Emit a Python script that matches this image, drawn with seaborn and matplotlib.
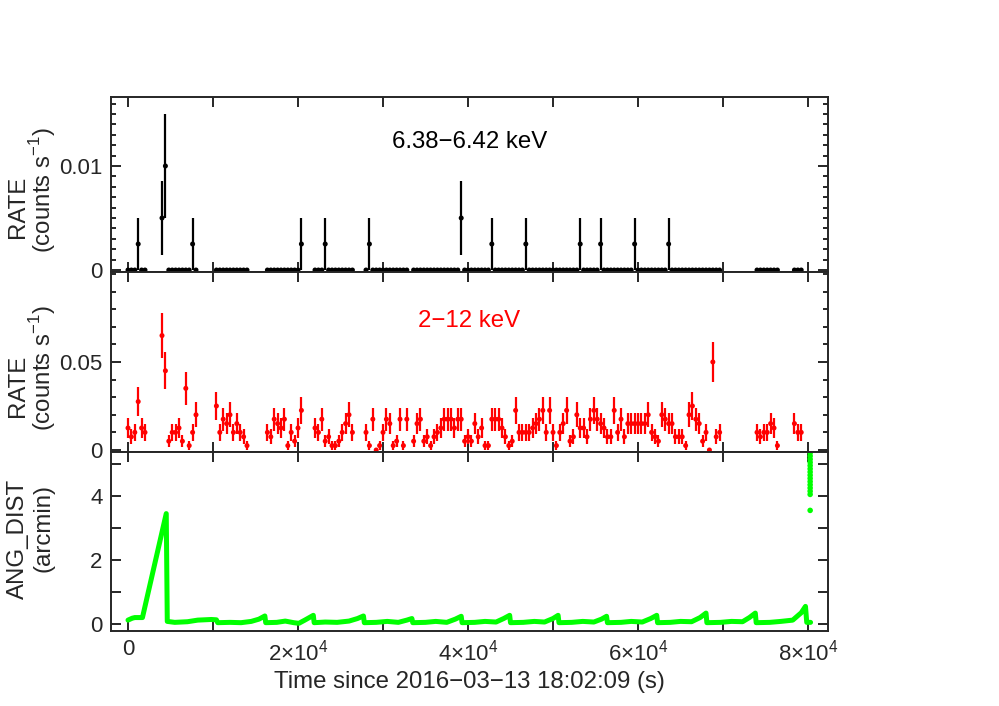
import numpy as np
import pandas as pd
import seaborn as sns
import matplotlib
matplotlib.use('Agg')
import matplotlib.pyplot as plt
from matplotlib.ticker import MultipleLocator, FuncFormatter

# ---- data ----
BIN = 400  # seconds per bin

# segments of good time: index of first 400 s bin, counts per bin (2-12 keV)
seg_start = [0, 10, 26, 41, 55, 70, 84, 99, 185, 196]
seg_counts = [
    [5, 3, 4, 11, 5, 4],
    [26, 18, 2, 4, 4, 5, 2, 14, 1, 4, 8],
    [10, 4, 7, 6, 8, 4, 6, 4, 3, 1],
    [4, 3, 7, 6, 5, 7, 1, 4, 2, 5, 9],
    [5, 4, 7, 2, 3, 1, 1, 2, 4, 6, 8, 4],
    [4, 1, 7, 0, 1, 4, 7, 6, 1, 2, 7, 1, 7],
    [2, 6, 7, 2, 3, 1, 3, 4, 5, 7, 7, 7, 5, 7, 7],
    [2, 3, 2, 6, 3, 5, 1, 1, 7, 7,
     7, 5, 3, 1, 2, 9, 4, 4, 4, 4,
     5, 6, 7, 9, 4, 9, 4, 1, 4, 6,
     9, 2, 3, 8, 5, 5, 3, 7, 9, 7,
     6, 5, 3, 3, 9, 4, 7, 3, 6, 6,
     6, 6, 6,
     6, 8, 4, 3, 2, 8, 7, 6, 6, 3,
     3, 3, 1, 8, 10, 7, 6, 2, 4, 0,
     20, 3, 4],
    [4, 3, 4, 4, 6, 5, 1],
    [6, 4, 4],
]

# 6.38-6.42 keV: bins with non-zero counts (all others are zero)
line_bin = [3, 10, 11, 19, 51, 58, 71, 98, 107, 117, 133, 139, 149, 159]
line_counts = [1, 2, 4, 1, 1, 1, 1, 2, 1, 1, 1, 1, 1, 1]

# off-axis angle (arcmin)
ang_t = [0, 500, 800, 1700, 4500, 4620,
         5500, 7000, 8200, 9800, 10400, 10550,
         12000, 13300, 14500, 15400, 16100, 16200,
         17500, 18500, 19500, 20100, 20800, 21800, 21900,
         23200, 24600, 26000, 27000, 27700, 27800,
         29200, 30500, 31800, 32800, 33400, 33500,
         35000, 36200, 37500, 38500, 39200, 39300,
         40800, 42000, 43300, 44200, 44900, 45000,
         46500, 47800, 49000, 50000, 50600, 50700,
         52200, 53500, 54800, 55700, 56300, 56400,
         58000, 59200, 60500, 61500, 62200, 62300,
         63800, 65000, 66300, 67300, 68000, 68100,
         69700, 71000, 72300, 73100, 73800, 73900,
         75500, 76800, 78200, 79200, 79700, 79850, 80300]
ang_v = [0.12, 0.18, 0.2, 0.2, 3.45, 0.08,
         0.05, 0.07, 0.12, 0.14, 0.13, 0.04,
         0.05, 0.04, 0.08, 0.15, 0.25, 0.04,
         0.05, 0.09, 0.04, 0.02, 0.12, 0.27, 0.04,
         0.06, 0.05, 0.09, 0.17, 0.25, 0.04,
         0.05, 0.08, 0.05, 0.12, 0.17, 0.04,
         0.05, 0.08, 0.05, 0.15, 0.24, 0.04,
         0.05, 0.08, 0.06, 0.17, 0.27, 0.04,
         0.05, 0.08, 0.06, 0.17, 0.27, 0.04,
         0.05, 0.08, 0.06, 0.15, 0.24, 0.04,
         0.05, 0.08, 0.06, 0.17, 0.27, 0.04,
         0.05, 0.08, 0.07, 0.2, 0.34, 0.04,
         0.05, 0.08, 0.07, 0.2, 0.34, 0.04,
         0.05, 0.08, 0.12, 0.35, 0.55, 0.05, 0.05]
# last few samples after the slew
tail_t = [80250] * 15
tail_v = [3.55, 4.05, 4.15, 4.25, 4.35, 4.45, 4.55, 4.65, 4.75, 4.85,
          4.95, 5.05, 5.15, 5.25, 5.35]

# ---- build tables ----
rows = []
for s, cts in zip(seg_start, seg_counts):
    for i, c in enumerate(cts):
        rows.append({'bin': s + i, 'counts': c})
lc = pd.DataFrame(rows)
lc['time'] = lc['bin'] * BIN
lc['rate'] = lc['counts'] / BIN
lc['err'] = np.sqrt(lc['counts']) / BIN

line_map = dict(zip(line_bin, line_counts))
lc['line_counts'] = lc['bin'].map(line_map).fillna(0)
lc['line_rate'] = lc['line_counts'] / BIN
lc['line_err'] = np.sqrt(lc['line_counts']) / BIN

ang = pd.DataFrame({'time': ang_t, 'dist': ang_v})
tail = pd.DataFrame({'time': tail_t, 'dist': tail_v})

# ---- style ----
sns.set_style('ticks')
plt.rcParams['font.family'] = ['Liberation Sans', 'DejaVu Sans']
plt.rcParams['mathtext.fontset'] = 'custom'
plt.rcParams['mathtext.rm'] = 'Liberation Sans'
plt.rcParams['axes.linewidth'] = 1.4

FS = 16      # tick labels
FL = 17.3    # axis labels / annotations
RED = '#ff0000'
GREEN = '#00ff00'

fig = plt.figure(figsize=(9.99, 7.06), dpi=100)
W, H = 999, 706
L, R = 111, 828
ax1 = fig.add_axes([L / W, 1 - 272 / H, (R - L) / W, 175 / H])
ax2 = fig.add_axes([L / W, 1 - 452 / H, (R - L) / W, 180 / H], sharex=ax1)
ax3 = fig.add_axes([L / W, 1 - 631 / H, (R - L) / W, 179 / H], sharex=ax1)

# panel 1: 6.4 keV line
ax1.errorbar(lc['time'], lc['line_rate'], yerr=lc['line_err'], xerr=BIN / 2,
             fmt='none', ecolor='black', elinewidth=1.6, capsize=0)
sns.scatterplot(data=lc, x='time', y='line_rate', color='black', s=13,
                edgecolor='none', ax=ax1, zorder=3)
ax1.text(0.5, 0.74, '6.38\u22126.42 keV', transform=ax1.transAxes,
         ha='center', va='center', fontsize=FL, color='black')

# panel 2: broad band
ax2.errorbar(lc['time'], lc['rate'], yerr=lc['err'], xerr=BIN / 2,
             fmt='none', ecolor=RED, elinewidth=1.6, capsize=0)
sns.scatterplot(data=lc, x='time', y='rate', color=RED, s=13,
                edgecolor='none', ax=ax2, zorder=3)
ax2.text(0.5, 0.73, '2\u221212 keV', transform=ax2.transAxes,
         ha='center', va='center', fontsize=FL, color=RED)

# panel 3: off-axis angle
sns.lineplot(data=ang, x='time', y='dist', sort=False, color=GREEN,
             linewidth=3.6, solid_capstyle='round', solid_joinstyle='round', ax=ax3)
sns.scatterplot(data=tail, x='time', y='dist', color=GREEN, s=16,
                edgecolor='none', ax=ax3)

# ---- axes ----
ax1.set_xlim(-2000, 82350)
ax1.set_ylim(-0.00019, 0.01663)
ax2.set_ylim(-0.00114, 0.1011)
ax3.set_ylim(-0.22, 5.375)

ax1.set_yticks([0, 0.01], ['0', '0.01'])
ax1.yaxis.set_minor_locator(MultipleLocator(0.001))
ax2.set_yticks([0, 0.05], ['0', '0.05'])
ax2.yaxis.set_minor_locator(MultipleLocator(0.01))
ax3.set_yticks([0, 1, 2, 3, 4, 5], ['0', '', '2', '', '4', ''])


def xfmt(v, pos):
    n = int(round(v / 1e4))
    if n == 0:
        return '0'
    if n % 2:
        return ''
    return f'{n}\u00d710$^{{\\mathregular{{4}}}}$'


ax3.xaxis.set_major_locator(MultipleLocator(10000))
ax3.xaxis.set_major_formatter(FuncFormatter(xfmt))

for ax in (ax1, ax2, ax3):
    ax.tick_params(which='both', direction='in', top=True, right=True,
                   width=1.4, labelsize=FS, pad=6)
    ax.tick_params(which='major', length=7)
    ax.tick_params(which='minor', length=3.5)
    for sp in ax.spines.values():
        sp.set_linewidth(1.4)
    ax.set_xlabel('')
    ax.set_ylabel('')
for ax in (ax1, ax2):
    ax.tick_params(axis='x', labelbottom=False)

# y labels: two rotated lines each, placed as in the original plot
unit = '(counts s$^{\\mathregular{-1}}$)'
ylab = [('RATE', 18, 207), (unit, 43, 190),
        ('RATE', 18, 386), (unit, 43, 368),
        ('ANG_DIST', 18, 539), ('(arcmin)', 43, 528)]
for txt, px, py in ylab:
    fig.text(px / W, 1 - py / H, txt, rotation=90, ha='center', va='center',
             fontsize=FL)

ax3.set_xlabel('Time since 2016\u221203\u221213 18:02:09 (s)', fontsize=FL, labelpad=4)

fig.savefig('out.png', dpi=100)
